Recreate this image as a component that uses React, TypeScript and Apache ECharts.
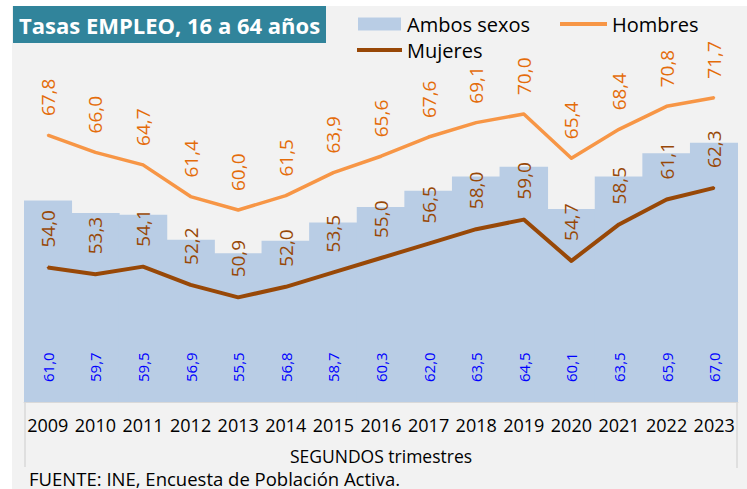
import React, { useEffect, useRef } from "react";
import * as echarts from "echarts";

const years = ["2009","2010","2011","2012","2013","2014","2015","2016","2017","2018","2019","2020","2021","2022","2023"];
const ambos = [61.0, 59.7, 59.5, 56.9, 55.5, 56.8, 58.7, 60.3, 62.0, 63.5, 64.5, 60.1, 63.5, 65.9, 67.0];
const hombres = [67.8, 66.0, 64.7, 61.4, 60.0, 61.5, 63.9, 65.6, 67.6, 69.1, 70.0, 65.4, 68.4, 70.8, 71.7];
const mujeres = [54.0, 53.3, 54.1, 52.2, 50.9, 52.0, 53.5, 55.0, 56.5, 58.0, 59.0, 54.7, 58.5, 61.1, 62.3];

const FONT = "'Open Sans', 'Noto Sans', sans-serif";
const fmt = (p: any) => Number(p.value).toFixed(1).replace(".", ",");

export default function App() {
  const ref = useRef<HTMLDivElement>(null);
  useEffect(() => {
    document.body.style.margin = "0";
    const chart = echarts.init(ref.current!, null, { renderer: "svg" });
    chart.setOption({
      animation: false,
      backgroundColor: "#ffffff",
      grid: { left: 24, right: 9, top: 18, bottom: 87, containLabel: false },
      xAxis: {
        type: "category",
        data: years,
        axisLine: { show: true, lineStyle: { color: "#d9d9d9", width: 1 } },
        axisTick: { show: false },
        axisLabel: { interval: 0, color: "#000", fontSize: 18, fontFamily: FONT, margin: 14 },
        name: "SEGUNDOS trimestres",
        nameLocation: "middle",
        nameGap: 45,
        nameTextStyle: { color: "#000", fontSize: 17.5, fontFamily: FONT, lineHeight: 18 },
      },
      yAxis: { type: "value", min: 40, max: 80, show: false, splitLine: { show: false } },
      legend: [
        {
          data: ["Ambos sexos"], left: 353, top: 9, itemWidth: 43, itemHeight: 13, itemGap: 0,
          icon: "rect", textStyle: { color: "#000", fontSize: 20, fontFamily: FONT, padding: [0, 0, 0, 1] },
        },
        {
          data: ["Hombres"], left: 555, top: 9, itemWidth: 47, itemHeight: 4, itemGap: 0,
          icon: "rect", textStyle: { color: "#000", fontSize: 20, fontFamily: FONT },
        },
        {
          data: ["Mujeres"], left: 352, top: 35, itemWidth: 45, itemHeight: 4, itemGap: 0,
          icon: "rect", textStyle: { color: "#000", fontSize: 20, fontFamily: FONT },
        },
      ],
      graphic: [
        { type: "rect", z: -10, silent: true, shape: { x: 12, y: 6, width: 747, height: 489 }, style: { fill: "#f2f2f2" } },
        { type: "rect", z: 10, shape: { x: 13, y: 6, width: 313, height: 37 }, style: { fill: "#31849b" } },
        { type: "text", z: 11, x: 19, y: 25, style: { text: "Tasas EMPLEO, 16 a 64 años", fill: "#fff", font: `bold 22px ${FONT}`, textVerticalAlign: "middle" } },
        { type: "line", shape: { x1: 25, y1: 402, x2: 25, y2: 467 }, style: { stroke: "#d9d9d9", lineWidth: 1.5 } },
        { type: "line", shape: { x1: 737, y1: 402, x2: 737, y2: 468 }, style: { stroke: "#d9d9d9", lineWidth: 1.5 } },
        { type: "text", x: 29, y: 478, style: { text: "FUENTE: INE, Encuesta de Población Activa.", fill: "#000", font: `18.5px ${FONT}`, textVerticalAlign: "middle", lineHeight: 18 } },
      ],
      series: [
        {
          name: "Ambos sexos",
          type: "bar",
          data: ambos,
          barWidth: 48.5,
          itemStyle: { color: "#b9cde5" },
          label: {
            show: true, position: "insideBottom", distance: 20, rotate: 90, align: "left", verticalAlign: "middle",
            formatter: fmt, color: "#0000ff", fontSize: 15, fontFamily: FONT,
          },
        },
        {
          name: "Hombres",
          type: "line",
          data: hombres,
          symbol: "circle",
          symbolSize: 2,
          itemStyle: { color: "#f79646" },
          lineStyle: { color: "#f79646", width: 3.5, join: "round" },
          label: {
            show: true, position: "top", distance: 18, rotate: 90, align: "left", verticalAlign: "middle",
            formatter: fmt, color: "#e46c0a", fontSize: 19, fontFamily: FONT,
          },
        },
        {
          name: "Mujeres",
          type: "line",
          data: mujeres,
          symbol: "circle",
          symbolSize: 2,
          itemStyle: { color: "#984807" },
          lineStyle: { color: "#984807", width: 4, join: "round" },
          label: {
            show: true, position: "top", distance: 19, rotate: 90, align: "left", verticalAlign: "middle",
            formatter: fmt, color: "#984807", fontSize: 19, fontFamily: FONT,
          },
        },
      ],
    });
    return () => chart.dispose();
  }, []);
  return <div ref={ref} style={{ width: 747, height: 489 }} />;
}
